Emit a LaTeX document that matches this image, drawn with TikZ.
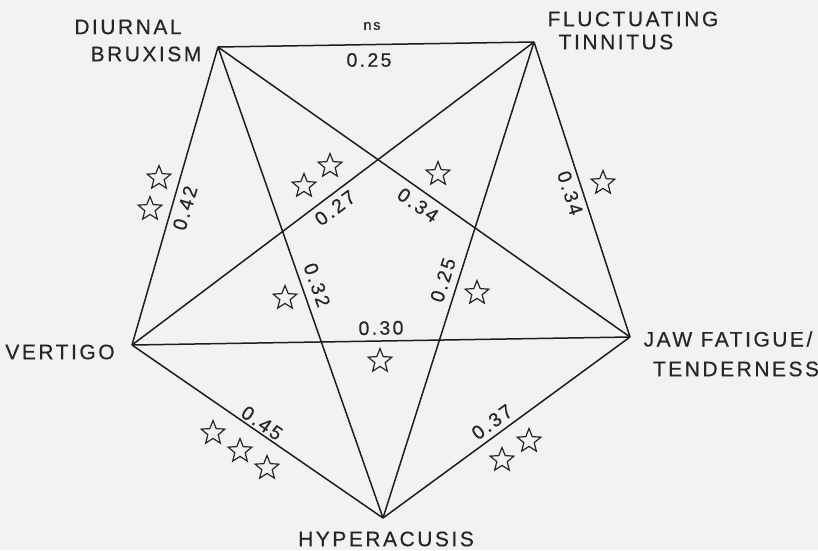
\documentclass[tikz,border=0pt]{standalone}
\usepackage{fontspec}
\usetikzlibrary{shapes.geometric}
\newfontfamily\labfont{Liberation Sans}[LetterSpace=12,FakeBold=0.5]
\newfontfamily\numfont{Liberation Sans}[LetterSpace=12,FakeBold=0.4]
\definecolor{paper}{HTML}{F2F2F0}
\definecolor{ink}{HTML}{1E1E1E}
\definecolor{txt}{HTML}{262626}
\tikzset{
  edge/.style={draw=ink, line width=1.5pt},
  vlabel/.style={text=txt, font=\labfont\fontsize{21}{23}\selectfont, inner sep=0pt},
  num/.style={text=txt, font=\numfont\fontsize{19.5}{21}\selectfont, inner sep=0pt},
  nsl/.style={text=txt, font=\numfont\fontsize{14.5}{16}\selectfont, inner sep=0pt},
  sig/.style={star, star points=5, star point ratio=2.3, minimum size=25pt, inner sep=0pt, draw=txt, line width=1.2pt}
}
\begin{document}
\begin{tikzpicture}[x=1pt,y=1pt]
\fill[paper] (0,0) rectangle (818,-550);
\useasboundingbox (0,0) rectangle (818,-550);
% vertices
\coordinate (db) at (218,-47);
\coordinate (ft) at (534,-42);
\coordinate (ve) at (132,-345);
\coordinate (jf) at (630,-337);
\coordinate (hy) at (383,-518);
% edges
\draw[edge] (db) -- (ft);
\draw[edge] (ve) -- (db);
\draw[edge] (ft) -- (jf);
\draw[edge] (ve) -- (hy);
\draw[edge] (hy) -- (jf);
\draw[edge] (ve) -- (jf);
\draw[edge] (db) -- (hy);
\draw[edge] (db) -- (jf);
\draw[edge] (ve) -- (ft);
\draw[edge] (hy) -- (ft);
% vertex labels
\node[vlabel] (dbl1) at (128,-27) {DIURNAL};
\node[vlabel] (dbl2) at (146,-54) {BRUXISM};
\node[vlabel] (ftl1) at (633,-19) {FLUCTUATING};
\node[vlabel] (ftl2) at (616,-42) {TINNITUS};
\node[vlabel] (vel) at (60,-352) {VERTIGO};
\node[vlabel] (jfl1) at (728,-339) {JAW FATIGUE/};
\node[vlabel] (jfl2) at (736,-369) {TENDERNESS};
\node[vlabel] (hyl) at (386,-539) {HYPERACUSIS};
% edge values
\node[nsl] (ns) at (372,-26) {ns};
\node[num] (n1) at (369,-60) {0.25};
\node[num, rotate=73.9] (n2) at (185,-208) {0.42};
\node[num, rotate=37.0] (n3) at (335,-208) {0.27};
\node[num, rotate=-35.1] (n4) at (418,-205) {0.34};
\node[num, rotate=-72.0] (n5) at (570,-193) {0.34};
\node[num, rotate=72.4] (n6) at (443,-280) {0.25};
\node[num, rotate=-70.7] (n7) at (317,-285) {0.32};
\node[num, rotate=0.9] (n8) at (381,-328) {0.30};
\node[num, rotate=-34.6] (n9) at (262,-423) {0.45};
\node[num, rotate=36.2] (n10) at (492,-422) {0.37};
% significance stars
\node[sig] (s1) at (159,-178) {};
\node[sig] (s2) at (150,-209) {};
\node[sig] (s3) at (304,-186) {};
\node[sig] (s4) at (330,-166) {};
\node[sig] (s5) at (438,-174) {};
\node[sig] (s6) at (603,-183) {};
\node[sig] (s7) at (477,-293) {};
\node[sig] (s8) at (285,-298) {};
\node[sig] (s9) at (380,-361) {};
\node[sig] (s10) at (213,-433) {};
\node[sig] (s11) at (240,-451) {};
\node[sig] (s12) at (267,-468) {};
\node[sig] (s13) at (502,-460) {};
\node[sig] (s14) at (529,-441) {};
\end{tikzpicture}
\end{document}
